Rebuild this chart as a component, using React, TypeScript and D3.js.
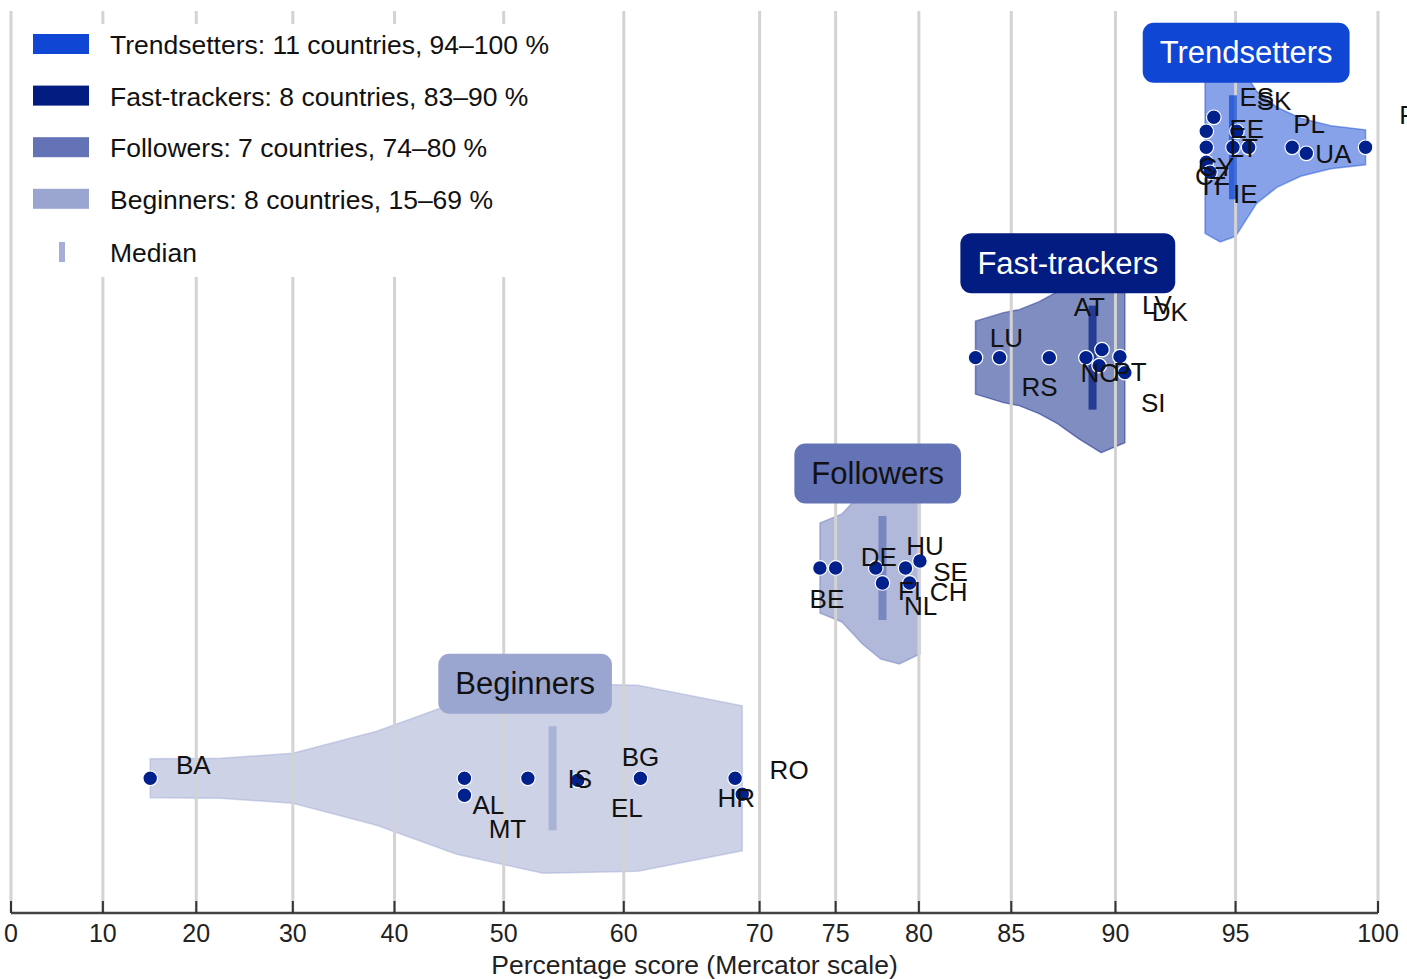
import React from 'react';
import * as d3 from 'd3';

// ---------- data ----------
const groups = ['Trendsetters', 'Fast-trackers', 'Followers', 'Beginners'];
const groupColors = ['#0f46d4', '#021c82', '#6473b5', '#9ba6d0'];
const groupTextColors = ['#ffffff', '#ffffff', '#111111', '#111111'];
const legendLabels = [
  'Trendsetters: 11 countries, 94\u2013100 %',
  'Fast-trackers: 8 countries, 83\u201390 %',
  'Followers: 7 countries, 74\u201380 %',
  'Beginners: 8 countries, 15\u201369 %',
];
const medianLabel = 'Median';
const xTicks = [0, 10, 20, 30, 40, 50, 60, 70, 75, 80, 85, 90, 95, 100];
const xTitle = 'Percentage score (Mercator scale)';

const trendCountries = ['ES', 'SK', 'IE', 'CZ', 'CY', 'IT', 'EE', 'LT', 'PL', 'UA', 'FR'];
const trendScores = [94.15, 94.9, 93.85, 93.85, 93.85, 94.0, 95.05, 95.5, 97.1, 97.6, 99.6];
const fastCountries = ['LU', 'RS', 'AT', 'NO', 'LV', 'SI', 'PT', 'DK'];
const fastScores = [83.13, 84.4, 86.9, 88.65, 89.39, 89.26, 90.2, 90.42];
const followCountries = ['BE', 'CH', 'DE', 'FI', 'SE', 'NL', 'HU'];
const followScores = [74.0, 75.0, 77.47, 77.87, 79.23, 79.47, 80.06];
const beginCountries = ['BA', 'AL', 'MT', 'IS', 'EL', 'BG', 'RO', 'HR'];
const beginScores = [15.1, 46.5, 46.5, 52.1, 56.3, 61.3, 68.3, 68.8];

// violin density profiles (score, relative density)
const trendProfileScores = [93.8, 94.4, 95.0, 95.8, 96.55, 97.4, 98.45, 99.6];
const trendProfileDensity = [0.86, 0.947, 0.89, 0.56, 0.4, 0.29, 0.215, 0.175];
const fastProfileScores = [83.13, 84.6, 85.4, 86.4, 87.3, 88.3, 89.35, 90.42];
const fastProfileDensity = [0.365, 0.45, 0.48, 0.56, 0.66, 0.81, 0.95, 0.85];
const followProfileScores = [74.0, 75.4, 76.66, 77.77, 78.87, 80.06];
const followProfileDensity = [0.45, 0.54, 0.76, 0.91, 0.96, 0.86];
const beginProfileScores = [15.1, 22.6, 30, 38.3, 45.8, 53.4, 61.1, 68.8];
const beginProfileDensity = [0.195, 0.2, 0.25, 0.47, 0.76, 0.95, 0.93, 0.725];

// ---------- layout (jitter & label nudges, px) ----------
const trendJitter = [-30, 0, -16, 0, 15, 25, -16, 0, 0, 6, 0];
const fastJitter = [0, 0, 0, 0, -8, 8, -1, 15];
const followJitter = [0, 0, 0, 15, 0, 15, -7];
const beginJitter = [0, 17, 0, 0, 2, 0, 0, 16];

const trendNudge = [[43, -20], [41, -46], [39, 63], [6, 29], [10, 5], [4, 14], [10, -2], [-5, 1], [17, -23], [27, 1], [51, -32]];
const fastNudge = [[31, -20], [40, 29], [40, -51], [14, 15], [55, -45], [54, 37], [10, 15], [45, -61]];
const followNudge = [[7, 31], [113, 24], [3, -11], [27, 8], [45, 4], [11, 23], [5, -15]];
const beginNudge = [[43, -13], [24, 10], [43, 51], [52, 1], [49, 28], [0, -21], [54, -8], [-6, 4]];

const groupCountries = [trendCountries, fastCountries, followCountries, beginCountries];
const groupScores = [trendScores, fastScores, followScores, beginScores];
const groupJitter = [trendJitter, fastJitter, followJitter, beginJitter];
const groupNudge = [trendNudge, fastNudge, followNudge, beginNudge];
const groupProfileScores = [trendProfileScores, fastProfileScores, followProfileScores, beginProfileScores];
const groupProfileDensity = [trendProfileDensity, fastProfileDensity, followProfileDensity, beginProfileDensity];

const FONT = '"Liberation Sans", Arial, Helvetica, sans-serif';

// Mercator transform
const LAT_MAX = 73;
const merc = (p: number) => Math.log(Math.tan(Math.PI / 4 + ((p / 100) * LAT_MAX * Math.PI) / 180 / 2));

function measure(text: string, size: number) {
  if (typeof document === 'undefined') return text.length * size * 0.55;
  const c = document.createElement('canvas');
  const ctx = c.getContext('2d')!;
  ctx.font = `${size}px ${FONT}`;
  return ctx.measureText(text).width;
}

export default function App() {
  const W = 1407;
  const H = 979;
  const xl = d3.scaleLinear().domain([merc(0), merc(100)]).range([11, 1378]);
  const x = (p: number) => xl(merc(p));
  const y = d3.scalePoint<string>().domain(groups).range([147.3, 778.3]);
  const wScale = d3.scaleLinear().domain([0, 1]).range([0, 100]);
  const axisY = 913;
  const plotTop = 11;

  const violins = groups.map((g, gi) => {
    const cy = y(g)!;
    const pts = groupProfileScores[gi].map((p, i) => ({ p, d: groupProfileDensity[gi][i] }));
    const area = d3
      .area<{ p: number; d: number }>()
      .x((d) => x(d.p))
      .y0((d) => cy - wScale(d.d))
      .y1((d) => cy + wScale(d.d))
      .curve(d3.curveLinear);
    return area(pts) || '';
  });

  return (
    <svg width={W} height={H} style={{ position: 'absolute', left: 0, top: 0, background: '#fff' }} fontFamily={FONT}>
      {/* violins */}
      {groups.map((g, gi) => (
        <path key={'v' + g} d={violins[gi]} fill={groupColors[gi]} fillOpacity={0.5} stroke={groupColors[gi]} strokeOpacity={0.45} strokeWidth={1.5} />
      ))}
      {/* gridlines */}
      {xTicks.map((t) => (
        <line key={'g' + t} x1={x(t)} x2={x(t)} y1={plotTop} y2={axisY} stroke="#d3d3d3" strokeWidth={3} />
      ))}
      {/* medians */}
      {groups.map((g, gi) => {
        const m = d3.median(groupScores[gi])!;
        const cy = y(g)!;
        return (
          <rect key={'m' + g} x={x(m) - 4} y={cy - 52} width={8} height={104} fill={groupColors[gi]} fillOpacity={0.72} />
        );
      })}
      {/* group label boxes */}
      {groups.map((g, gi) => {
        const mean = d3.mean(groupScores[gi])!;
        const cx = x(mean);
        const cy = y(g)! - 94.5;
        const tw = measure(g, 31);
        const bw = tw + 34;
        return (
          <g key={'b' + g}>
            <rect x={cx - bw / 2} y={cy - 30} width={bw} height={60} rx={11} fill={groupColors[gi]} />
            <text x={cx} y={cy} textAnchor="middle" dominantBaseline="central" fontSize={31} fill={groupTextColors[gi]}>
              {g}
            </text>
          </g>
        );
      })}
      {/* dots */}
      {groups.map((g, gi) =>
        groupScores[gi].map((s, i) => (
          <circle key={'d' + g + i} cx={x(s)} cy={y(g)! + groupJitter[gi][i]} r={7.3} fill="#00208b" stroke="#ffffff" strokeWidth={1.2} />
        ))
      )}
      {/* country labels */}
      {groups.map((g, gi) =>
        groupCountries[gi].map((c, i) => (
          <text
            key={'l' + c}
            x={x(groupScores[gi][i]) + groupNudge[gi][i][0]}
            y={y(g)! + groupJitter[gi][i] + groupNudge[gi][i][1]}
            textAnchor="middle"
            dominantBaseline="central"
            fontSize={26}
            fill="#111"
          >
            {c}
          </text>
        ))
      )}
      {/* legend */}
      <rect x={14} y={24} width={560} height={253} fill="#ffffff" />
      {legendLabels.map((l, i) => (
        <g key={'lg' + i}>
          <rect x={33} y={44 + i * 51.6 - 10} width={56} height={20} fill={groupColors[i]} />
          <text x={110} y={45 + i * 51.6} dominantBaseline="central" fontSize={26.5} fill="#111">
            {l}
          </text>
        </g>
      ))}
      <rect x={59} y={252 - 10} width={6} height={20} fill={groupColors[3]} fillOpacity={0.9} />
      <text x={110} y={253} dominantBaseline="central" fontSize={26.5} fill="#111">
        {medianLabel}
      </text>
      {/* x axis */}
      <line x1={x(0)} x2={x(100)} y1={axisY} y2={axisY} stroke="#444" strokeWidth={2.5} />
      {xTicks.map((t) => (
        <g key={'t' + t}>
          <line x1={x(t)} x2={x(t)} y1={axisY - 12} y2={axisY} stroke="#333" strokeWidth={2} />
          <text x={x(t)} y={933} textAnchor="middle" dominantBaseline="central" fontSize={25} fill="#222">
            {t}
          </text>
        </g>
      ))}
      <text x={(x(0) + x(100)) / 2} y={965} textAnchor="middle" dominantBaseline="central" fontSize={26.5} fill="#222">
        {xTitle}
      </text>
    </svg>
  );
}
